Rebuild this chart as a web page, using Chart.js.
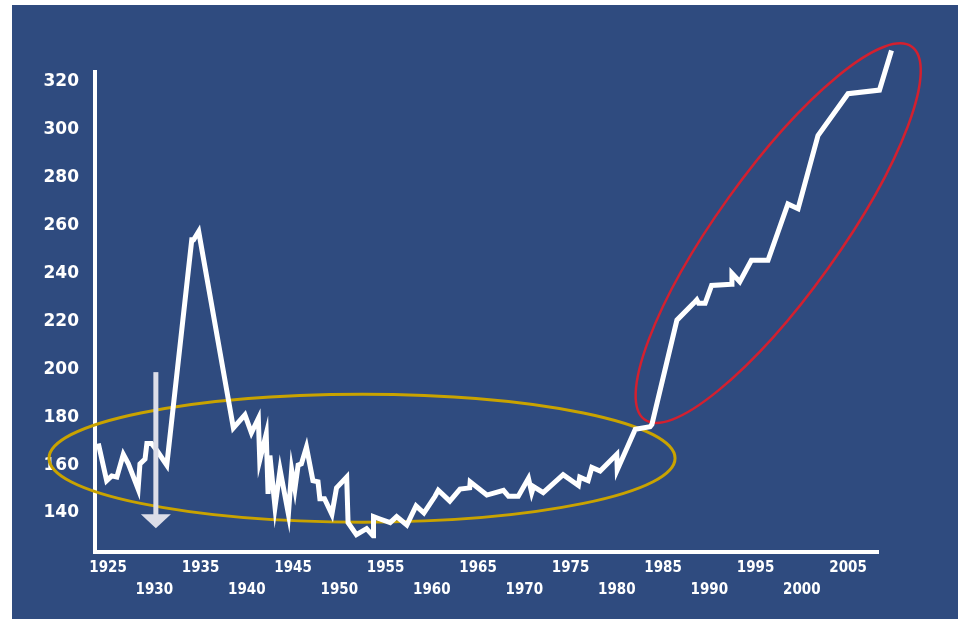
<!DOCTYPE html>
<html>
<head>
<meta charset="utf-8">
<script src="https://cdn.jsdelivr.net/npm/chart.js@4/dist/chart.umd.min.js"></script>
<style>
  html, body { margin:0; padding:0; background:#fff; }
  #wrap { position:absolute; left:12px; top:5px; width:946px; height:614px; background:#2f4b7f; }
</style>
</head>
<body>
<div id="wrap"><canvas id="c" width="946" height="614"></canvas></div>
<script>
// series (year, value)
const years = [
  1923.95,1924.85,1925.4,1925.95,1926.65,1927.2,1928.25,1928.45,1929.0,1929.2,1929.7,1930.3,1931.35,
  1934.05,1934.25,1934.8,1938.55,1939.8,1940.5,1941.25,1941.4,1942.1,1942.3,1942.5,1943.05,1943.6,
  1944.5,1944.85,1945.2,1945.55,1945.9,1946.45,1947.15,1947.7,1947.9,1948.4,1949.2,1949.7,1950.8,
  1950.95,1951.85,1952.95,1953.65,1953.7,1954.4,1955.5,1956.2,1957.3,1958.3,1959.15,1960.35,1960.7,
  1961.95,1963.05,1964.1,1964.15,1965.95,1967.75,1968.3,1969.35,1970.45,1970.8,1971.0,1972.05,
  1974.2,1975.85,1976.0,1976.9,1977.3,1978.2,1980.0,1980.05,1982.0,1983.6,1983.8,1986.5,1988.3,
  1988.65,1988.85,1989.55,1990.25,1992.4,1992.45,1993.3,1994.55,1996.35,1998.5,1999.6,2001.75,
  2005.0,2008.4,2009.7
];
const values = [
  169,153.5,155.5,155,164.5,160.5,150,160.5,162.5,169,169,166,160,
  254,254,257.5,175.5,181,173.5,179.5,162,173,148,164,142.5,158,
  139.5,158,150,160,160.5,167.5,153.5,153,146,146,139.5,150.5,155,
  136,131,133.5,130.5,138.5,137.5,136,138.5,135,143,140,147,149.5,
  145,150,150.5,153,147.5,149.5,147,147,154.5,148.5,151,148.5,
  156,151.5,155,153.5,159,157.5,164.5,158,175,176,177,220.5,227.5,
  229,227.5,227.5,235,235.5,240,236.5,245.5,245.5,269,267,297.5,
  315,316.5,333
];

const xTicks = [1925,1930,1935,1940,1945,1950,1955,1960,1965,1970,1975,1980,1985,1990,1995,2000,2005];
const xTickLabels = ['1925','1930','1935','1940','1945','1950','1955','1960','1965','1970','1975','1980','1985','1990','1995','2000','2005'];
const yTicks = [140,160,180,200,220,240,260,280,300,320];
const xRange = [1923.59, 2008.24];
const yRange = [123.74, 324.05];

// annotations, in data units
const goldEllipse = {cx:1952.46, cy:162.9, rx:33.84, ry:26.7};
const redEllipse = {x1:1983.0, y1:179.0, x2:2011.9, y2:334.6, half:61};
const arrow = {x:1930.17, from:198.8, to:133.7};

function annotBefore(chart){
  const ctx = chart.ctx, xs = chart.scales.x, ys = chart.scales.y;
  ctx.save();
  // gold ellipse
  const gx = xs.getPixelForValue(goldEllipse.cx), gy = ys.getPixelForValue(goldEllipse.cy);
  const grx = xs.getPixelForValue(goldEllipse.cx + goldEllipse.rx) - gx;
  const gry = gy - ys.getPixelForValue(goldEllipse.cy + goldEllipse.ry);
  ctx.beginPath();
  ctx.ellipse(gx, gy, grx, gry, 0, 0, Math.PI*2);
  ctx.strokeStyle = '#c9a300';
  ctx.lineWidth = 3;
  ctx.stroke();
  // red ellipse
  const ax = xs.getPixelForValue(redEllipse.x1), ay = ys.getPixelForValue(redEllipse.y1);
  const bx = xs.getPixelForValue(redEllipse.x2), by = ys.getPixelForValue(redEllipse.y2);
  const a = Math.hypot(bx-ax, by-ay)/2;
  ctx.beginPath();
  ctx.ellipse((ax+bx)/2, (ay+by)/2, a, redEllipse.half, Math.atan2(by-ay, bx-ax), 0, Math.PI*2);
  ctx.strokeStyle = '#d3202f';
  ctx.lineWidth = 2.5;
  ctx.stroke();
  ctx.restore();
}

function annotAfter(chart){
  const ctx = chart.ctx, xs = chart.scales.x, ys = chart.scales.y;
  const x = xs.getPixelForValue(arrow.x);
  const top = ys.getPixelForValue(arrow.from), tip = ys.getPixelForValue(arrow.to);
  ctx.save();
  ctx.fillStyle = '#dcdde8';
  ctx.fillRect(x-2.5, top, 5, tip-top-12);
  ctx.beginPath();
  ctx.moveTo(x-15, tip-14);
  ctx.lineTo(x+15, tip-14);
  ctx.lineTo(x, tip);
  ctx.closePath();
  ctx.fill();
  ctx.restore();
}

new Chart(document.getElementById('c'), {
  type: 'line',
  data: {
    datasets: [{
      data: years.map((y,i)=>({x:y, y:values[i]})),
      borderColor: '#ffffff',
      borderWidth: 5,
      pointRadius: 0,
      tension: 0,
      clip: false,
      borderJoinStyle: 'miter'
    }]
  },
  options: {
    responsive: false,
    animation: false,
    layout: { padding: {top:67, right:80, bottom:0, left:0} },
    plugins: { legend:{display:false}, tooltip:{enabled:false} },
    scales: {
      x: {
        type: 'linear',
        bounds: 'data',
        grid: { display:false, drawTicks:false },
        border: { display:true, color:'#ffffff', width:4 },
        // range set here (not via min/max) so points past the end still draw
        afterBuildTicks: s => { s.ticks = xTicks.map(v=>({value:v})); s.min = xRange[0]; s.max = xRange[1]; },
        afterFit: s => { s.height = 67; },
        ticks: {
          autoSkip: false, maxRotation: 0, padding: 5,
          color: '#ffffff',
          font: { family: "'DejaVu Sans Condensed', 'DejaVu Sans', sans-serif", size: 15, weight: 'bold', lineHeight: 1.467 },
          callback: (v, i) => i % 2 === 0 ? [xTickLabels[i]] : ['', xTickLabels[i]]
        }
      },
      y: {
        bounds: 'data',
        grid: { display:false, drawTicks:false },
        border: { display:true, color:'#ffffff', width:4 },
        afterBuildTicks: s => { s.ticks = yTicks.map(v=>({value:v})); s.min = yRange[0]; s.max = yRange[1]; },
        afterFit: s => { s.width = 83; },
        ticks: {
          padding: 16,
          color: '#ffffff',
          font: { family: "'DejaVu Sans', sans-serif", size: 17, weight: 'bold' },
          callback: v => String(v)
        }
      }
    }
  },
  plugins: [{ id:'annot', beforeDatasetsDraw: annotBefore, afterDatasetsDraw: annotAfter }]
});
</script>
</body>
</html>
